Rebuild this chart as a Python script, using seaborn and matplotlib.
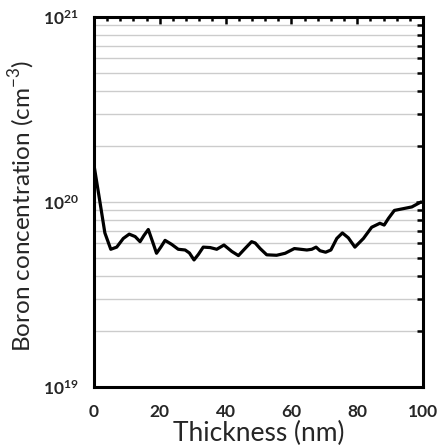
import numpy as np
import pandas as pd
import matplotlib
matplotlib.use("Agg")
import matplotlib.pyplot as plt
import seaborn as sns
from matplotlib.ticker import LogLocator, MultipleLocator, NullFormatter

# values
thickness = [0, 1.8, 3.3, 5.1, 6.9, 8.9, 10.7, 12.5, 14.0, 15.2, 16.5, 17.8, 19.0,
             20.3, 21.6, 23.6, 25.6, 27.7, 29.0, 30.4, 31.7, 33.2, 35.3, 37.3,
             39.5, 41.9, 43.9, 45.9, 47.9, 49.0, 50.5, 52.5, 55.5, 58.1, 60.9,
             64.7, 66.2, 67.5, 68.7, 70.4, 72.0, 73.8, 75.5, 77.3, 79.3, 81.9,
             84.4, 86.9, 88.2, 89.5, 91.3, 94.0, 96.6, 99.4]
boron = [1.58e20, 1.0e20, 6.8e19, 5.55e19, 5.7e19, 6.35e19, 6.7e19, 6.5e19, 6.1e19,
         6.6e19, 7.1e19, 6.1e19, 5.28e19, 5.7e19, 6.2e19, 5.9e19, 5.55e19, 5.5e19,
         5.3e19, 4.86e19, 5.2e19, 5.7e19, 5.67e19, 5.55e19, 5.85e19, 5.4e19, 5.13e19,
         5.6e19, 6.1e19, 6.0e19, 5.6e19, 5.18e19, 5.15e19, 5.28e19, 5.6e19, 5.5e19,
         5.55e19, 5.7e19, 5.45e19, 5.35e19, 5.5e19, 6.35e19, 6.8e19, 6.4e19, 5.7e19,
         6.35e19, 7.3e19, 7.67e19, 7.5e19, 8.15e19, 9.0e19, 9.2e19, 9.4e19, 1.0e20]
x_ticks = [0, 20, 40, 60, 80, 100]
y_ticks = [1e19, 1e20, 1e21]
y_tick_labels = [r"$\mathbf{10^{19}}$", r"$\mathbf{10^{20}}$", r"$\mathbf{10^{21}}$"]

df = pd.DataFrame({"Thickness": thickness, "Boron": boron})

sns.set_style("white")
plt.rcParams["font.family"] = ["Lato", "DejaVu Sans"]
plt.rcParams["mathtext.fontset"] = "custom"
plt.rcParams["mathtext.rm"] = "Lato"
plt.rcParams["mathtext.bf"] = "Lato:bold"

fig = plt.figure(figsize=(4.42, 4.48), dpi=100)
ax = fig.add_axes([0.2127, 0.1362, 0.7443, 0.826])

sns.lineplot(data=df, x="Thickness", y="Boron", ax=ax, color="black", linewidth=2.3)
for ln in ax.lines:
    ln.set_solid_joinstyle("round")
    ln.set_solid_capstyle("round")

ax.set_yscale("log")
ax.set_xlim(0, 100)
ax.set_ylim(1e19, 1e21)

ax.set_xticks(x_ticks)
ax.xaxis.set_minor_locator(MultipleLocator(4))
ax.set_yticks(y_ticks)
ax.set_yticklabels(y_tick_labels)
ax.yaxis.set_minor_locator(LogLocator(base=10, subs=np.arange(2, 10)))
ax.yaxis.set_minor_formatter(NullFormatter())

for lab in ax.get_xticklabels():
    lab.set_fontweight("bold")
    lab.set_fontsize(12.5)
for lab in ax.get_yticklabels():
    lab.set_fontsize(12.5)

ax.yaxis.grid(True, which="both", color="#cccccc", linewidth=1)
ax.xaxis.grid(False)

ax.tick_params(axis="both", which="both", direction="in", top=True, right=True,
               color="black", width=1.8)
ax.tick_params(axis="x", which="major", length=5, pad=12)
ax.tick_params(axis="x", which="minor", length=3)
ax.tick_params(axis="y", which="major", length=5, pad=11)
ax.tick_params(axis="y", which="minor", length=4)

for sp in ax.spines.values():
    sp.set_color("black")
    sp.set_linewidth(2.2)

ax.set_xlabel("Thickness (nm)", fontsize=19)
ax.set_ylabel("Boron concentration (cm$^{-3}$)", fontsize=17.5)
ax.xaxis.set_label_coords(0.5, -0.092)
ax.yaxis.set_label_coords(-0.172, 0.49)

fig.savefig("out.png", dpi=100)
